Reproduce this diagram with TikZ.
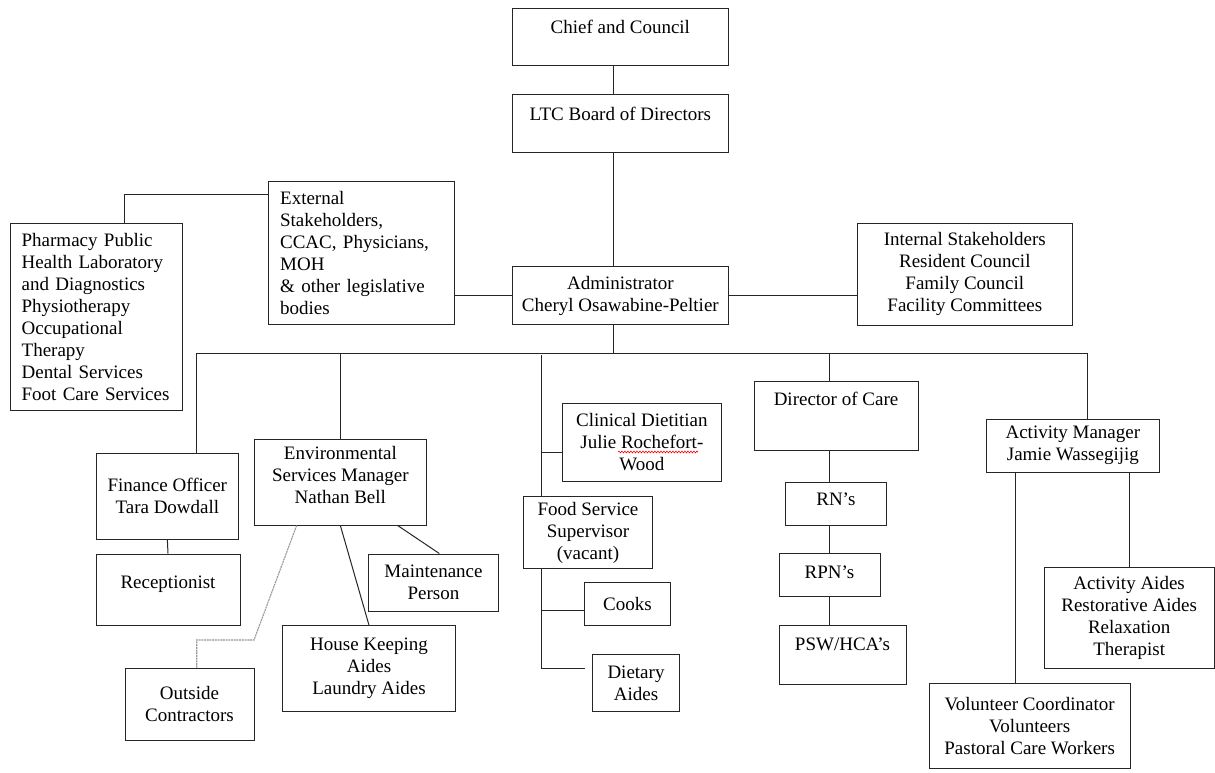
\documentclass[tikz,border=0pt]{standalone}
\usepackage{fontspec}
\setmainfont{Liberation Serif}
\usetikzlibrary{decorations.pathmorphing}

\begin{document}
\begin{tikzpicture}[x=1pt, y=-1pt,
  box/.style={draw=black!85, line width=1pt, align=center, inner sep=2pt,
    font=\fontsize{19}{22}\selectfont},
  leftbox/.style={box, align=left, inner xsep=11.5pt},
  link/.style={draw=black!85, line width=1pt},
  dotlink/.style={draw=black!40, line width=1.1pt, dash pattern=on 2pt off 0.7pt}]

\path[fill=white, use as bounding box] (0,0) rectangle (1215,772);

% draw some boxes
\node[box, minimum width=215.3, minimum height=57, text height=13pt, text depth=20pt] (chief) at (620.35,36.5) {Chief and Council};
\node[box, minimum width=215.3, minimum height=58, text height=13pt, text depth=19pt] (ltc) at (620.35,123) {LTC Board of Directors};
\node[box, minimum width=215.3, minimum height=57.6] (admin) at (620.35,295.5) {Administrator\\Cheryl Osawabine-Peltier};
\node[leftbox, text width=163pt, minimum height=143] (ext) at (361.65,252.5) {External\\Stakeholders,\\CCAC, Physicians,\\MOH\\\& other legislative\\bodies};
\node[leftbox, text width=149pt, minimum height=186.7] (pharm) at (96.15,316.65) {Pharmacy Public\\Health Laboratory\\and Diagnostics\\Physiotherapy\\Occupational\\Therapy\\Dental Services\\Foot Care Services};
\node[box, minimum width=215, minimum height=101.7] (intl) at (964.8,274.15) {Internal Stakeholders\\Resident Council\\Family Council\\Facility Committees};

\node[box, minimum width=142.7, minimum height=86] (fin) at (167.35,496) {Finance Officer\\Tara Dowdall};
\node[box, minimum width=144, minimum height=71.7, text height=13pt, text depth=16pt] (recep) at (168,589.85) {Receptionist};
\node[box, minimum width=172.7, minimum height=86, text depth=14pt] (env) at (340.35,482) {Environmental\\Services Manager\\Nathan Bell};
\node[box, minimum width=129.6, minimum height=57] (maint) at (433.5,582.5) {Maintenance\\Person};
\node[box, minimum width=172.6, minimum height=86] (house) at (369,668.7) {House Keeping\\Aides\\Laundry Aides};
\node[box, minimum width=129, minimum height=72.7] (outside) at (189.5,704.35) {Outside\\Contractors};

\node[box, minimum width=158.3, minimum height=78.4] (clin) at (641.85,442.5) {Clinical Dietitian\\Julie Rochefort-\\Wood};
\node[box, minimum width=129.4, minimum height=71.6] (fsup) at (588,532.5) {Food Service\\Supervisor\\(vacant)};
\node[box, minimum width=86.4, minimum height=43] (cooks) at (627.5,604.2) {Cooks};
\node[box, minimum width=86.6, minimum height=57.4] (daides) at (636,683) {Dietary\\Aides};

\node[box, minimum width=164, minimum height=69, text height=13pt, text depth=35pt] (dir) at (836,416.2) {Director of Care};
\node[box, minimum width=100.3, minimum height=43, text height=13pt, text depth=10pt] (rn) at (835.85,503.5) {RN's};
\node[box, minimum width=101, minimum height=43, text height=13pt, text depth=7pt] (rpn) at (829.5,575.2) {RPN's};
\node[box, minimum width=127, minimum height=58.3, text height=13pt, text depth=22.6pt] (psw) at (842.5,654.85) {PSW/HCA's};

\node[box, minimum width=172.3, minimum height=53] (act) at (1072.85,445.5) {Activity Manager\\Jamie Wassegijig};
\node[box, minimum width=170.3, minimum height=100.6] (aides) at (1129.15,618) {Activity Aides\\Restorative Aides\\Relaxation\\Therapist};
\node[box, minimum width=200.7, minimum height=85] (vol) at (1029.65,725.8) {Volunteer Coordinator\\Volunteers\\Pastoral Care Workers};

% draw some points
\node[coordinate] (bus) at (613,353) {};
\node[coordinate] (busL) at (196.7,353) {};
\node[coordinate] (busR) at (1087,353) {};
\node[coordinate] (food) at (541,355) {};
\node[coordinate] (care) at (829,353) {};
\node[coordinate] (dietB) at (541,452.7) {};
\node[coordinate] (cookB) at (541,610.7) {};
\node[coordinate] (aideB) at (541,668.3) {};
\node[coordinate] (aideE) at (585,668.3) {};
\node[coordinate] (bend) at (254,640) {};

% draw some lines
\draw[link] (bus |- chief.south) -- (bus |- ltc.north);
\draw[link] (bus |- ltc.south) -- (bus |- admin.north);
\draw[link] ([yshift=58pt]ext.west) -| ([xshift=28.8pt]pharm.north);
\draw[link] (admin.west) -- (admin.west -| ext.east);
\draw[link] (admin.east) -- (admin.east -| intl.west);
\draw[link] (bus |- admin.south) -- (bus);
\draw[link] (busL) -- (busR);

\draw[link] (busL) -- (busL |- fin.north);
\draw[link] (fin.south) -- (recep.north);
\draw[link] (env.north) -- (env.north |- bus);
\draw[link] (env.south) -- (house.north);
\draw[link] ([xshift=57.3pt]env.south) -- ([xshift=5.8pt]maint.north);
\draw[dotlink] ([xshift=-43.7pt]env.south) -- (bend) -| ([xshift=7.2pt]outside.north);

\draw[link] (food) -- (food |- fsup.north);
\draw[link] (dietB) -- (dietB -| clin.west);
\draw[link] (food |- fsup.south) -- (aideB) -- (aideE);
\draw[link] (cookB) -- (cookB -| cooks.west);

\draw[link] (care) -- (care |- dir.north);
\draw[link] (care |- dir.south) -- (care |- rn.north);
\draw[link] (care |- rn.south) -- (care |- rpn.north);
\draw[link] (care |- rpn.south) -- (care |- psw.north);

\draw[link] (busR) -- (busR |- act.north);
\draw[link] ([xshift=-14pt]vol.north) -- ([xshift=-14pt]vol.north |- act.south);
\draw[link] (aides.north) -- (aides.north |- act.south);

% spelling mark
\draw[red, line width=0.6pt, decorate, decoration={snake, amplitude=0.9pt, segment length=3pt}] (618,452) -- (698,452);

\end{tikzpicture}
\end{document}
